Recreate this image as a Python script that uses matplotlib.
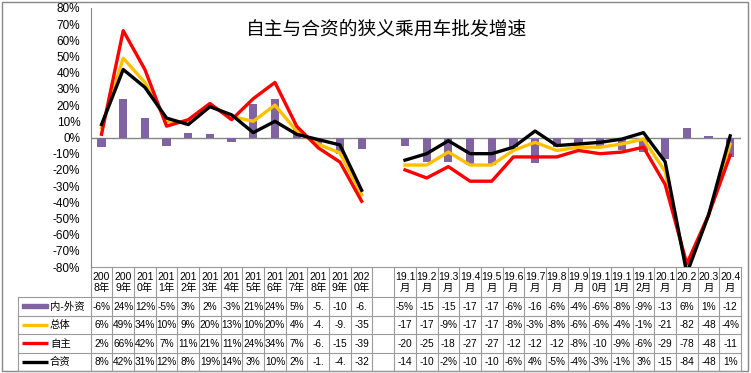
import numpy as np
import matplotlib
matplotlib.use("Agg")
import matplotlib.pyplot as plt
from matplotlib.patches import Rectangle

plt.rcParams["font.family"] = ["Liberation Sans", "Noto Sans CJK SC", "DejaVu Sans"]

nan = np.nan

# categories: 13 years, one empty column, 16 months
categories = ["2008年", "2009年", "2010年", "2011年", "2012年", "2013年", "2014年",
              "2015年", "2016年", "2017年", "2018年", "2019年", "2020年", "",
              "19.1月", "19.2月", "19.3月", "19.4月", "19.5月", "19.6月", "19.7月",
              "19.8月", "19.9月", "19.10月", "19.11月", "19.12月",
              "20.1月", "20.2月", "20.3月", "20.4月"]

# growth in %
neiwai = [-6, 24, 12, -5, 3, 2, -3, 21, 24, 5, -5.2, -10.3, -6.8, nan,
          -5, -15, -15, -17, -17, -6, -16, -6, -4, -6, -8, -9, -13, 6, 1, -12]
zongti = [6, 49, 34, 10, 9, 20, 13, 10, 20, 4, -4.1, -9.6, -35.3, nan,
          -17, -17, -9, -17, -17, -8, -3, -8, -6, -6, -4, -1, -21, -82, -48, -4]
zizhu = [2, 66, 42, 7, 11, 21, 11, 24, 34, 7, -6.4, -15.2, -39.4, nan,
         -20, -25, -18, -27, -27, -12, -12, -12, -8, -10, -9, -6, -29, -78, -48, -11]
hezi = [8, 42, 31, 12, 8, 19, 14, 3, 10, 2, -1.3, -4.6, -32.6, nan,
        -14, -10, -2, -10, -10, -6, 4, -5, -4, -3, -1, 3, -15, -84, -48, 1]

series_names = ["内-外资", "总体", "自主", "合资"]
title = "自主与合资的狭义乘用车批发增速"

PURPLE = "#8064A2"
YELLOW = "#FFC000"
RED = "#FF0000"
BLACK = "#000000"
GRID = "#9a9a9a"

W, H = 751, 373
fig = plt.figure(figsize=(W / 100, H / 100), dpi=100)

# plot area in pixels
x0, x1 = 90.7, 741.0
ytop, ybot = 8.0, 267.0
ax = fig.add_axes([x0 / W, 1 - ybot / H, (x1 - x0) / W, (ybot - ytop) / H])

x = np.arange(len(categories))
ax.bar(x, neiwai, width=0.38, color=PURPLE, zorder=2)
ax.plot(x, zongti, color=YELLOW, lw=2.4, zorder=3)
ax.plot(x, zizhu, color=RED, lw=2.4, zorder=4)
ax.plot(x, hezi, color=BLACK, lw=2.4, zorder=5)
ax.axhline(0, color="#868686", lw=1, zorder=1)

ax.set_xlim(-0.5, len(categories) - 0.5)
ax.set_ylim(-80, 80)
ax.set_yticks(np.arange(-80, 81, 10))
ax.set_yticklabels([f"{v}%" for v in range(-80, 81, 10)], fontsize=8.5)
ax.tick_params(axis="y", length=0, pad=7.5)
ax.set_xticks([])
for s in ["top", "right", "bottom"]:
    ax.spines[s].set_visible(False)
ax.spines["left"].set_color("#868686")
ax.patch.set_alpha(0)

# overlay in pixel coordinates for title, table and frame
ov = fig.add_axes([0, 0, 1, 1], zorder=-1)
ov.set_xlim(0, W)
ov.set_ylim(H, 0)
ov.axis("off")

ov.add_patch(Rectangle((2, 2), 746, 369, fill=False, ec="#888888", lw=1))
ov.text(387, 29, title, fontsize=13.5, ha="center", va="center",
        family=["Noto Sans CJK SC"])

cw = (x1 - x0) / len(categories)
rows_y = [267, 297, 315.5, 334, 352.5, 371]
lab_x = 18

# grid
for i in range(len(categories) + 1):
    xe = x0 + i * cw
    ov.plot([xe, xe], [rows_y[0], rows_y[-1]], color=GRID, lw=0.8)
ov.plot([x0, x1], [rows_y[0], rows_y[0]], color=GRID, lw=0.8)
for yy in rows_y[1:]:
    ov.plot([lab_x, x1], [yy, yy], color=GRID, lw=0.8)
ov.plot([lab_x, lab_x], [rows_y[1], rows_y[-1]], color=GRID, lw=0.8)


def header(lbl):
    cut = 4 if "." in lbl else 3
    return lbl[:cut] + "\n" + lbl[cut:] if lbl else ""


def cell(v):
    if np.isnan(v):
        return ""
    s = f"{v:.0f}%" if float(v).is_integer() else f"{v:.1f}%"
    return s[:3]


for i, c in enumerate(categories):
    cx = x0 + (i + 0.5) * cw
    ov.text(cx, (rows_y[0] + rows_y[1]) / 2 + 0.5, header(c), fontsize=7.5,
            ha="center", va="center", linespacing=1.0)

table_data = [neiwai, zongti, zizhu, hezi]
colors = [PURPLE, YELLOW, RED, BLACK]
for r, (name, vals, col) in enumerate(zip(series_names, table_data, colors)):
    yc = (rows_y[r + 1] + rows_y[r + 2]) / 2
    if r == 0:
        ov.add_patch(Rectangle((22, yc - 2), 26, 4, color=col))
    else:
        ov.plot([22, 48], [yc, yc], color=col, lw=2.4, solid_capstyle="butt")
    ov.text(50, yc + 0.5, name, fontsize=7.5, ha="left", va="center")
    for i, v in enumerate(vals):
        cx = x0 + (i + 0.5) * cw
        ov.text(cx, yc + 0.5, cell(v), fontsize=7.3, ha="center", va="center")

fig.savefig("out.png", dpi=100)
